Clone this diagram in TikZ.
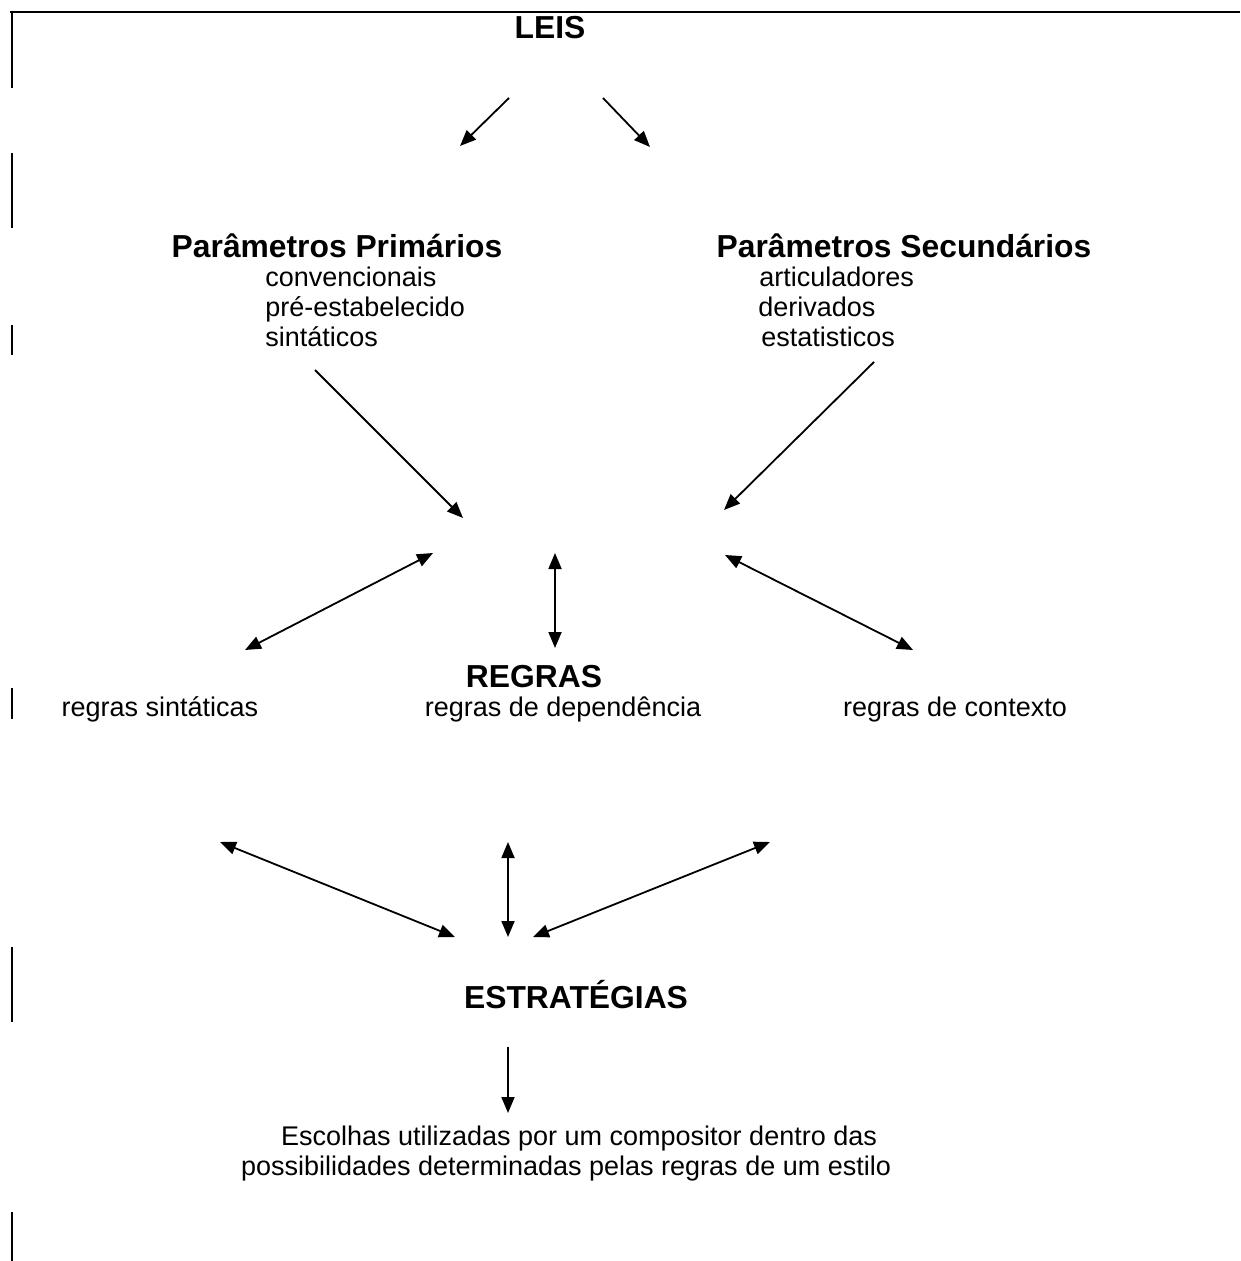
\documentclass[tikz,border=0pt]{standalone}
\usepackage{fontspec}
\setmainfont{Liberation Sans}
\usepackage{tikz}
\usetikzlibrary{arrows.meta, positioning}
\tikzstyle{title} = [font=\fontsize{15.9}{19}\selectfont\bfseries, inner sep=0pt, anchor=base]
\tikzstyle{txt} = [font=\fontsize{13.5}{16}\selectfont, inner sep=0pt, anchor=base west]
\tikzstyle{arrow} = [line width=0.9pt, -{Triangle[length=8pt,width=6.5pt]}]
\tikzstyle{twoway} = [line width=0.9pt, {Triangle[length=8pt,width=6.5pt]}-{Triangle[length=8pt,width=6.5pt]}]
\tikzstyle{frame} = [line width=1.1pt]

\begin{document}
\begin{tikzpicture}[x=0.5pt, y=-0.5pt]
    \useasboundingbox (0,0) rectangle (1240,1261);

    % Frame pieces
    \draw[frame] (10,12) -- (1240,12);
    \foreach \a/\b in {12/88, 153/228, 325/355, 688/719, 947/1022, 1212/1261}
        \draw[frame] (12,\a) -- (12,\b);

    % Laws and parameters
    \node (leis) [title] at (550,39) {LEIS};
    \node (prim) [title] at (337,258) {Parâmetros Primários};
    \node (conv) [txt] at (265,287) {convencionais};
    \node (pre) [txt] at (265,317) {pré-estabelecido};
    \node (sint) [txt] at (265,347) {sintáticos};
    \node (sec) [title] at (904,258) {Parâmetros Secundários};
    \node (art) [txt] at (759,287) {articuladores};
    \node (deriv) [txt] at (758,317) {derivados};
    \node (estat) [txt] at (761,347) {estatisticos};

    % Rules
    \node (regras) [title] at (534,687) {REGRAS};
    \node (rsint) [txt, anchor=base] at (160,716) {regras sintáticas};
    \node (rdep) [txt, anchor=base] at (563,716) {regras de dependência};
    \node (rctx) [txt, anchor=base] at (955,716) {regras de contexto};

    % Strategies
    \node (estr) [title] at (576,1008) {ESTRATÉGIAS};
    \node (esc1) [txt, anchor=base] at (579,1145) {Escolhas utilizadas por um compositor dentro das};
    \node (esc2) [txt, anchor=base] at (566,1175) {possibilidades determinadas pelas regras de um estilo};

    % Arrow ends
    \coordinate (lawL) at (509,98);   \coordinate (primTop) at (460,146);
    \coordinate (lawR) at (603,98);   \coordinate (secTop) at (650,147);
    \coordinate (primOut) at (315,370); \coordinate (midL) at (463,518);
    \coordinate (secOut) at (874,362);  \coordinate (midR) at (724,510);
    \coordinate (r1a) at (245,650); \coordinate (r1b) at (433,553);
    \coordinate (r2a) at (555,648); \coordinate (r2b) at (555,553);
    \coordinate (r3a) at (913,650); \coordinate (r3b) at (725,555);
    \coordinate (s1a) at (220,842); \coordinate (s1b) at (455,937);
    \coordinate (s2a) at (508,842); \coordinate (s2b) at (508,937);
    \coordinate (s3a) at (770,842); \coordinate (s3b) at (533,937);
    \coordinate (downA) at (508,1047); \coordinate (downB) at (508,1113);

    % Arrows
    \draw[arrow] (lawL) -- (primTop);
    \draw[arrow] (lawR) -- (secTop);
    \draw[arrow] (primOut) -- (midL);
    \draw[arrow] (secOut) -- (midR);
    \draw[twoway] (r1a) -- (r1b);
    \draw[twoway] (r2a) -- (r2b);
    \draw[twoway] (r3a) -- (r3b);
    \draw[twoway] (s1a) -- (s1b);
    \draw[twoway] (s2a) -- (s2b);
    \draw[twoway] (s3a) -- (s3b);
    \draw[arrow] (downA) -- (downB);
\end{tikzpicture}
\end{document}
